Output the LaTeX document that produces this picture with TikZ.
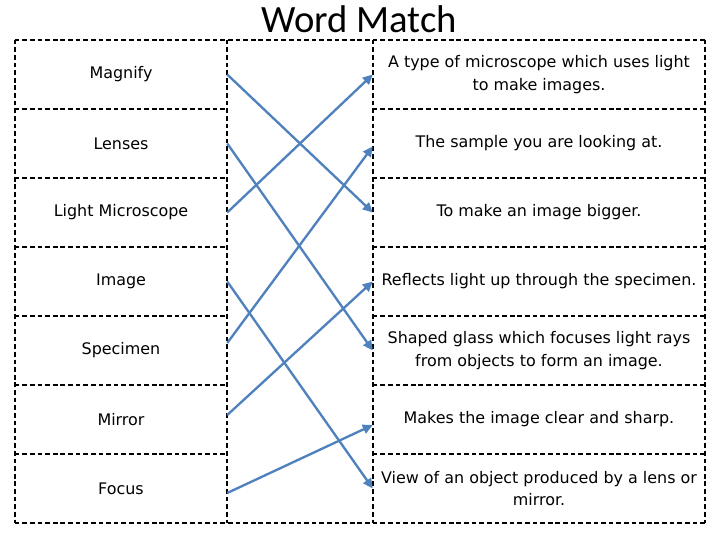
\documentclass[tikz,border=0pt]{standalone}
\usepackage{fontspec}
\setmainfont{DejaVu Sans}
\newfontfamily\titlefont{Carlito}
\usetikzlibrary{arrows.meta,calc}

\definecolor{linkblue}{RGB}{79,129,189}

\tikzset{
  cell/.style={inner sep=0pt, minimum height=2.07cm, align=center,
    font=\fontsize{13.6}{19.5}\selectfont},
  wordcell/.style={cell, minimum width=6.36cm},
  defcell/.style={cell, minimum width=9.96cm},
  grid/.style={draw=black, line width=1.7pt, dash pattern=on 4pt off 2.5pt},
  link/.style={linkblue, line width=2pt, -{Triangle[length=8.5pt,width=8pt]}}
}

\begin{document}
\begin{tikzpicture}[x=0.03cm, y=-0.03cm]
  \useasboundingbox (0,0) rectangle (720,540);

  % title
  \node[font=\titlefont\fontsize{33}{36}\selectfont] (title) at (359,19) {Word Match};

  % words
  \node[wordcell] (w1) at (121,74.5) {Magnify};
  \node[wordcell] (w2) at (121,143.5) {Lenses};
  \node[wordcell] (w3) at (121,212.5) {Light Microscope};
  \node[wordcell] (w4) at (121,281.5) {Image};
  \node[wordcell] (w5) at (121,350.5) {Specimen};
  \node[wordcell] (w6) at (121,419.5) {Mirror};
  \node[wordcell] (w7) at (121,488.5) {Focus};

  % meanings
  \node[defcell] (d1) at (539,74.5) {A type of microscope which uses light\\to make images.};
  \node[defcell] (d2) at (539,143.5) {The sample you are looking at.};
  \node[defcell] (d3) at (539,212.5) {To make an image bigger.};
  \node[defcell] (d4) at (539,281.5) {Reflects light up through the specimen.};
  \node[defcell] (d5) at (539,350.5) {Shaped glass which focuses light rays\\from objects to form an image.};
  \node[defcell] (d6) at (539,419.5) {Makes the image clear and sharp.};
  \node[defcell] (d7) at (539,488.5) {View of an object produced by a lens or\\mirror.};

  % dashed table
  \draw[grid] (w1.north west) -- (d1.north east);
  \draw[grid] (w7.south west) -- (d7.south east);
  \draw[grid] (w1.north west) -- (w7.south west);
  \draw[grid] (w1.north east) -- (w7.south east);
  \draw[grid] (d1.north west) -- (d7.south west);
  \draw[grid] (d1.north east) -- (d7.south east);
  \foreach \r in {1,...,6} {
    \draw[grid] (w\r.south west) -- (w\r.south east);
    \draw[grid] (d\r.south west) -- (d\r.south east);
  }

  % answers
  \draw[link] (w1.east) -- (d3.west);
  \draw[link] (w2.east) -- (d5.west);
  \draw[link] (w3.east) -- (d1.west);
  \draw[link] (w4.east) -- (d7.west);
  \draw[link] ($(w5.east)+(0,-7.5)$) -- ($(d2.west)+(0,3)$);
  \draw[link] ($(w6.east)+(0,-4.5)$) -- (d4.west);
  \draw[link] ($(w7.east)+(0,4.5)$) -- ($(d6.west)+(0,5.5)$);
\end{tikzpicture}
\end{document}
